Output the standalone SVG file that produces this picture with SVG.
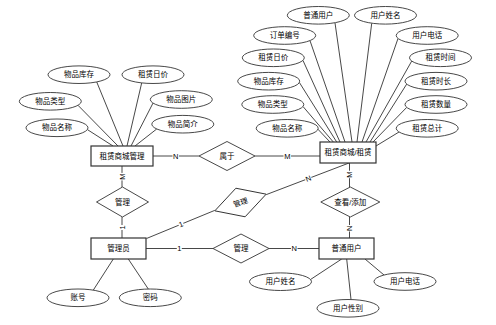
<svg xmlns="http://www.w3.org/2000/svg" width="496" height="325" viewBox="0 0 496 325">
<style>
text{font-family:"Liberation Sans","Noto Sans CJK SC",sans-serif;font-size:7.5px;fill:#000;text-anchor:middle;dominant-baseline:central}
.ent{fill:#fff;stroke:#333;stroke-width:1.2}
.att{fill:#fff;stroke:#333;stroke-width:0.9}
.rel{fill:#fff;stroke:#333;stroke-width:0.9}
.ln{stroke:#333;stroke-width:0.9;fill:none}
.lb{fill:#fff}
</style>
<rect width="496" height="325" fill="#fff"/>
<g id="connectors">
<line class="ln" x1="87.4" y1="129.6" x2="113" y2="146"/>
<line class="ln" x1="78" y1="105.3" x2="118" y2="146"/>
<line class="ln" x1="96.7" y1="81.9" x2="123" y2="146"/>
<line class="ln" x1="141.7" y1="82.9" x2="127" y2="146"/>
<line class="ln" x1="153" y1="103.1" x2="131" y2="146"/>
<line class="ln" x1="156.7" y1="129" x2="135" y2="146"/>
<line class="ln" x1="318" y1="129.3" x2="330" y2="142"/>
<line class="ln" x1="303" y1="106.5" x2="333.3" y2="142"/>
<line class="ln" x1="299.4" y1="82.5" x2="336.7" y2="142"/>
<line class="ln" x1="303" y1="60.5" x2="340" y2="142"/>
<line class="ln" x1="310" y1="40.7" x2="345" y2="142"/>
<line class="ln" x1="335" y1="22.9" x2="352" y2="142"/>
<line class="ln" x1="371.7" y1="23.4" x2="357" y2="142"/>
<line class="ln" x1="398" y1="38.5" x2="362" y2="142"/>
<line class="ln" x1="411.7" y1="61.1" x2="366" y2="142"/>
<line class="ln" x1="406.7" y1="84.1" x2="370" y2="142"/>
<line class="ln" x1="406.7" y1="107.4" x2="373" y2="142"/>
<line class="ln" x1="399" y1="132" x2="376" y2="146"/>
<line class="ln" x1="93.3" y1="290.1" x2="113.3" y2="259"/>
<line class="ln" x1="148.3" y1="289" x2="128.3" y2="259"/>
<line class="ln" x1="310.5" y1="279.5" x2="341.7" y2="259"/>
<line class="ln" x1="351" y1="299.5" x2="346.7" y2="259"/>
<line class="ln" x1="384" y1="275" x2="365" y2="259"/>
<line class="ln" x1="153" y1="156" x2="199" y2="156"/>
<line class="ln" x1="255" y1="156" x2="320" y2="156"/>
<line class="ln" x1="122" y1="166" x2="122" y2="187"/>
<line class="ln" x1="122" y1="217" x2="122" y2="238"/>
<line class="ln" x1="349.5" y1="163" x2="349.5" y2="187"/>
<line class="ln" x1="349.5" y1="217" x2="349.5" y2="238"/>
<line class="ln" x1="146" y1="248.5" x2="213" y2="248.5"/>
<line class="ln" x1="269" y1="248.5" x2="319" y2="248.5"/>
<line class="ln" x1="146.5" y1="238.5" x2="214.7" y2="210.4"/>
<line class="ln" x1="266.3" y1="194.6" x2="349" y2="163"/>
<rect class="lb" x="172.5" y="152" width="6.5" height="8"/>
<text x="175.7" y="156">N</text>
<rect class="lb" x="283.5" y="152" width="7.5" height="8"/>
<text x="287.3" y="156">M</text>
<g transform="translate(122,176.7) rotate(-90)"><rect class="lb" x="-3.7" y="-4" width="7.5" height="8"/><text x="0" y="0">M</text></g>
<g transform="translate(122,227.5) rotate(-90)"><rect class="lb" x="-2.5" y="-4" width="5" height="8"/><text x="0" y="0">1</text></g>
<g transform="translate(349.5,174.5) rotate(-90)"><rect class="lb" x="-3.7" y="-4" width="7.5" height="8"/><text x="0" y="0">M</text></g>
<g transform="translate(349.5,228.3) rotate(-90)"><rect class="lb" x="-3.2" y="-4" width="6.5" height="8"/><text x="0" y="0">N</text></g>
<g transform="translate(181,224.3) rotate(-22)"><rect class="lb" x="-2.5" y="-4" width="5" height="8"/><text x="0" y="0">1</text></g>
<g transform="translate(308.3,178.6) rotate(-21)"><rect class="lb" x="-3.2" y="-4" width="6.5" height="8"/><text x="0" y="0">N</text></g>
<rect class="lb" x="176.8" y="244.5" width="5" height="8"/>
<text x="179.3" y="248.5">1</text>
<rect class="lb" x="291" y="244.5" width="6.5" height="8"/>
<text x="294.3" y="248.5">N</text>
</g>
<g id="e-mall-manage"><rect class="ent" x="91" y="146" width="62" height="20"/><text x="122" y="156">租赁商城管理</text></g>
<g id="e-mall-rent"><rect class="ent" x="320" y="142" width="56" height="21"/><text x="348" y="152.5">租赁商城/租赁</text></g>
<g id="e-admin"><rect class="ent" x="91" y="238" width="55" height="21"/><text x="118.5" y="248.5">管理员</text></g>
<g id="e-user"><rect class="ent" x="319" y="238" width="55" height="21"/><text x="346.5" y="248.5">普通用户</text></g>
<g id="r-belong"><polygon class="rel" points="199,156 227,141.5 255,156 227,170.5"/><text x="227" y="156">属于</text></g>
<g id="r-manage-left"><polygon class="rel" points="96.5,202 122.5,187 148.5,202 122.5,217"/><text x="122.5" y="202">管理</text></g>
<g id="r-view-add"><polygon class="rel" points="320.8,202 350.3,187 379.8,202 350.3,217"/><text x="350.3" y="202">查看/添加</text></g>
<g id="r-manage-bottom"><polygon class="rel" points="213,248.5 241,234 269,248.5 241,263"/><text x="241" y="248.5">管理</text></g>
<g id="r-manage-tilt" transform="translate(240.5,202.5) rotate(-18)"><polygon class="rel" points="-27,0 0,-15 27,0 0,15"/><text x="0" y="0">管理</text></g>
<g id="a-l-stock"><ellipse class="att" cx="79" cy="74.7" rx="31" ry="8.8"/><text x="79" y="74.7">物品库存</text></g>
<g id="a-l-price"><ellipse class="att" cx="153" cy="74.7" rx="31" ry="8.8"/><text x="153" y="74.7">租赁日价</text></g>
<g id="a-l-type"><ellipse class="att" cx="50.3" cy="101.3" rx="31" ry="8.8"/><text x="50.3" y="101.3">物品类型</text></g>
<g id="a-l-image"><ellipse class="att" cx="181.3" cy="99.5" rx="31" ry="8.8"/><text x="181.3" y="99.5">物品图片</text></g>
<g id="a-l-name"><ellipse class="att" cx="57" cy="127.8" rx="31" ry="8.8"/><text x="57" y="127.8">物品名称</text></g>
<g id="a-l-intro"><ellipse class="att" cx="182.8" cy="124.2" rx="31" ry="8.8"/><text x="182.8" y="124.2">物品简介</text></g>
<g id="a-r-user"><ellipse class="att" cx="318.3" cy="15.3" rx="31" ry="8.8"/><text x="318.3" y="15.3">普通用户</text></g>
<g id="a-r-uname"><ellipse class="att" cx="385.5" cy="15.3" rx="31" ry="8.8"/><text x="385.5" y="15.3">用户姓名</text></g>
<g id="a-r-order"><ellipse class="att" cx="284.7" cy="35.5" rx="31" ry="8.8"/><text x="284.7" y="35.5">订单编号</text></g>
<g id="a-r-phone"><ellipse class="att" cx="427.2" cy="35.5" rx="31" ry="8.8"/><text x="427.2" y="35.5">用户电话</text></g>
<g id="a-r-price"><ellipse class="att" cx="273.3" cy="57.8" rx="31" ry="8.8"/><text x="273.3" y="57.8">租赁日价</text></g>
<g id="a-r-time"><ellipse class="att" cx="440.5" cy="57.8" rx="31" ry="8.8"/><text x="440.5" y="57.8">租赁时间</text></g>
<g id="a-r-stock"><ellipse class="att" cx="268.7" cy="81.2" rx="31" ry="8.8"/><text x="268.7" y="81.2">物品库存</text></g>
<g id="a-r-duration"><ellipse class="att" cx="436" cy="81.2" rx="31" ry="8.8"/><text x="436" y="81.2">租赁时长</text></g>
<g id="a-r-type"><ellipse class="att" cx="272.8" cy="104.5" rx="31" ry="8.8"/><text x="272.8" y="104.5">物品类型</text></g>
<g id="a-r-qty"><ellipse class="att" cx="436" cy="104.5" rx="31" ry="8.8"/><text x="436" y="104.5">租赁数量</text></g>
<g id="a-r-name"><ellipse class="att" cx="287.2" cy="128.3" rx="31" ry="8.8"/><text x="287.2" y="128.3">物品名称</text></g>
<g id="a-r-total"><ellipse class="att" cx="427.2" cy="128.3" rx="31" ry="8.8"/><text x="427.2" y="128.3">租赁总计</text></g>
<g id="a-account"><ellipse class="att" cx="78" cy="297.8" rx="31" ry="8.8"/><text x="78" y="297.8">账号</text></g>
<g id="a-password"><ellipse class="att" cx="150.3" cy="297.8" rx="31" ry="8.8"/><text x="150.3" y="297.8">密码</text></g>
<g id="a-u-name"><ellipse class="att" cx="280.5" cy="281.7" rx="31" ry="8.8"/><text x="280.5" y="281.7">用户姓名</text></g>
<g id="a-u-gender"><ellipse class="att" cx="348" cy="308.3" rx="31" ry="8.8"/><text x="348" y="308.3">用户性别</text></g>
<g id="a-u-phone"><ellipse class="att" cx="405" cy="281.5" rx="31" ry="8.8"/><text x="405" y="281.5">用户电话</text></g>
</svg>
